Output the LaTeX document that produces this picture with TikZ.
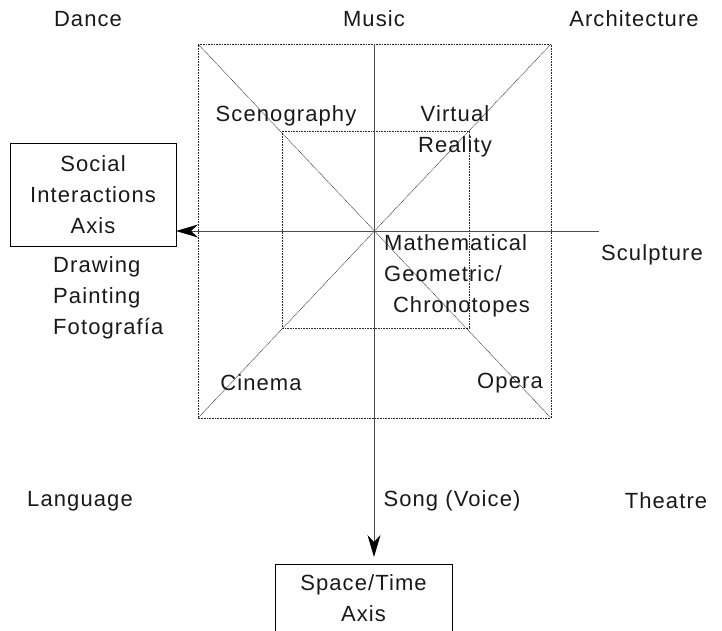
\documentclass[tikz,border=0pt]{standalone}
\usepackage{fontspec}
\setmainfont{Liberation Sans}[LetterSpace=5]
\usetikzlibrary{arrows.meta}
\begin{document}
\begin{tikzpicture}[x=1pt,y=-1pt,
  lbl/.style={font=\fontsize{22}{31}\selectfont, text=black!90, inner sep=0pt, align=center},
  lbll/.style={lbl, align=left},
  dotline/.style={densely dotted, line width=0.6pt, black!85},
  diag/.style={dash pattern=on 1pt off 0.6pt, line width=0.5pt, black!85},
  axis/.style={line width=1pt, black!70},
  tip/.style={-{Stealth[length=22pt,width=13pt,inset=7pt,black]}},
  axbox/.style={draw, line width=0.8pt, lbl}]
\useasboundingbox (0,0) rectangle (722,630);
% squares
\coordinate (o1) at (198,44); \coordinate (o2) at (551,44);
\coordinate (o3) at (551,418); \coordinate (o4) at (198,418);
\draw[dotline] (o1) -- (o2) -- (o3) -- (o4) -- cycle;
\coordinate (i1) at (282,131); \coordinate (i3) at (469,328);
\draw[dotline] (i1) rectangle (i3);
\draw[diag] (o1) -- (o3);
\draw[diag] (o2) -- (o4);
% boxes
\node[axbox, minimum width=166, minimum height=103] (soc) at (93,194.5) {Social\\Interactions\\Axis};
\node[axbox, minimum width=177, minimum height=110, anchor=north] (st) at (363.5,564) {};
\node[lbl] (stt) at (363.5,598) {Space/Time\\Axis};
% axes
\coordinate (vtop) at (374,44);
\coordinate (vend) at (374,557);
\coordinate (hright) at (599,231);
\coordinate (hend) at (176,231);
\draw[axis, tip] (vtop) -- (vend);
\draw[axis, tip] (hright) -- (hend);
% labels
\node[lbl] (dance) at (88,19) {Dance};
\node[lbl] (music) at (374,19) {Music};
\node[lbl] (arch) at (634,19) {Architecture};
\node[lbl] (sceno) at (286,116) {Scenography};
\node[lbl] (vr) at (455,131) {Virtual\\Reality};
\node[lbll, anchor=west] (draw) at (53,298) {Drawing\\Painting\\Fotografía};
\node[lbll, anchor=west] (math) at (384,276) {Mathematical\\Geometric/\\\hspace*{0.4em}Chronotopes};
\node[lbl] (sculp) at (652,255) {Sculpture};
\node[lbl] (cin) at (261,383) {Cinema};
\node[lbl] (opera) at (510,383) {Opera};
\node[lbl] (lang) at (80,501) {Language};
\node[lbl] (song) at (452,501) {Song (Voice)};
\node[lbl] (thea) at (666,501) {Theatre};
\end{tikzpicture}
\end{document}
